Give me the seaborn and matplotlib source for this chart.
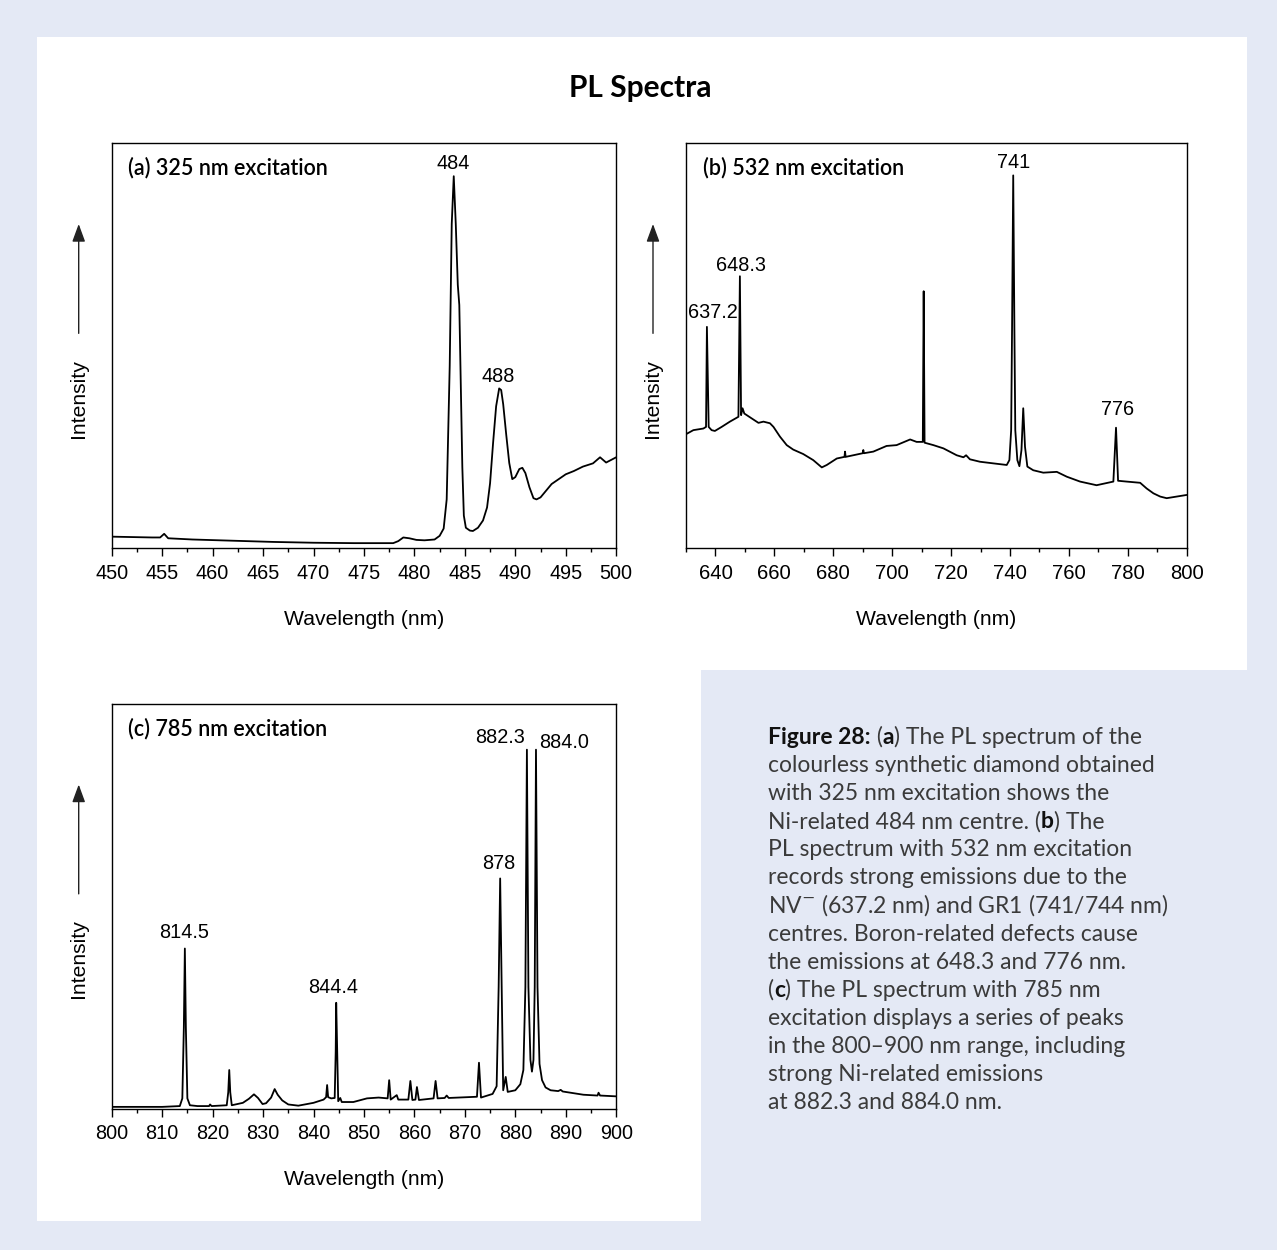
import matplotlib
matplotlib.use('Agg')
import matplotlib.pyplot as plt
import matplotlib.ticker as mticker
from matplotlib.patches import Rectangle
import seaborn as sns

wl_a = [450.0, 452.0, 454.0, 454.8, 455.2, 455.6, 458.0, 462.0, 466.0, 470.0,
        474.0, 477.9, 478.4, 478.9, 479.5, 480.2, 481.0, 482.0, 482.5, 482.9,
        483.2, 483.5, 483.7, 483.9, 484.1, 484.3, 484.45, 484.6, 484.75, 484.9,
        485.1, 485.5, 485.8, 486.3, 486.8, 487.2, 487.5, 487.8, 488.1, 488.4,
        488.6, 488.8, 489.1, 489.4, 489.7, 490.0, 490.4, 490.7, 491.0, 491.4,
        491.8, 492.1, 492.5, 493.0, 493.6, 494.3, 495.0, 495.8, 496.7, 497.7,
        498.4, 499.0, 500.0]
int_a = [2.8, 2.7, 2.6, 2.6, 3.5, 2.4, 2.1, 1.8, 1.5, 1.3,
         1.2, 1.2, 1.7, 2.6, 2.4, 2.0, 1.9, 2.1, 3.0, 4.8,
         12.0, 45.0, 80.0, 91.8, 80.0, 65.0, 60.0, 40.0, 20.0, 8.0,
         5.0, 4.3, 4.2, 5.0, 6.8, 10.0, 16.0, 26.0, 35.0, 39.4,
         39.0, 35.5, 28.0, 21.0, 17.0, 17.5, 19.5, 19.8, 18.5, 15.0,
         12.3, 12.0, 12.5, 14.0, 15.8, 17.0, 18.2, 19.0, 20.1, 20.9,
         22.4, 21.1, 22.4]
peaks_a = ['484', '488']
peak_x_a = [483.8, 488.3]
peak_y_a = [94.9, 42.4]

wl_b = [630.0, 632.5, 635.9, 636.8, 637.1, 637.7, 638.7, 639.8, 642.1, 644.9,
        647.8, 648.3, 648.7, 649.2, 649.8, 652.3, 654.6, 656.3, 658.5, 659.7,
        661.9, 664.2, 666.4, 669.8, 673.2, 676.1, 677.8, 681.2, 683.8, 684.0,
        684.2, 686.8, 690.0, 690.2, 690.4, 693.6, 698.1, 701.5, 706.1, 708.3,
        710.4, 710.7, 711.0, 714.0, 717.4, 721.9, 724.2, 725.1, 726.4, 729.8,
        734.3, 738.9, 739.8, 740.4, 740.7, 741.1, 741.5, 741.8, 742.5, 743.2,
        743.9, 744.5, 745.1, 745.9, 747.9, 751.3, 755.9, 759.3, 763.8, 769.4,
        775.1, 776.0, 776.7, 779.6, 784.2, 786.4, 788.7, 791.0, 793.2, 796.6,
        800.0]
int_b = [28.1, 29.1, 29.5, 29.9, 54.6, 29.9, 29.1, 28.9, 29.9, 31.2,
         32.4, 67.1, 32.8, 34.5, 33.2, 32.0, 30.9, 31.2, 30.8, 29.9,
         27.5, 25.4, 24.3, 23.2, 21.7, 19.9, 20.5, 22.1, 22.5, 23.8,
         22.5, 22.9, 23.4, 24.2, 23.4, 23.8, 25.2, 25.4, 26.8, 26.2,
         26.2, 63.4, 26.0, 25.4, 24.6, 22.9, 22.4, 22.9, 21.9, 21.3,
         20.9, 20.5, 21.7, 29.1, 53.8, 92.0, 53.8, 29.1, 21.7, 20.2,
         24.2, 34.5, 25.0, 20.1, 19.2, 18.6, 18.8, 17.6, 16.4, 15.5,
         16.4, 29.7, 16.6, 16.4, 16.1, 14.7, 13.5, 12.7, 12.3, 12.7,
         13.1]
peaks_b = ['637.2', '648.3', '741', '776']
peak_x_b = [639.0, 648.7, 741.1, 776.5]
peak_y_b = [58.1, 69.8, 95.1, 34.2]

wl_c = [800.0, 810.0, 813.5, 814.0, 814.3, 814.5, 814.7, 815.0, 815.5, 817.0,
        819.3, 819.5, 819.8, 822.8, 823.1, 823.3, 823.5, 823.8, 826.0, 827.2,
        828.2, 829.0, 829.9, 830.6, 831.6, 832.3, 832.9, 833.8, 835.0, 837.0,
        840.0, 842.0, 842.5, 842.7, 842.9, 843.5, 844.2, 844.4, 844.5, 844.7,
        844.9, 845.3, 845.6, 847.9, 850.6, 852.9, 854.7, 855.0, 855.3, 856.5,
        856.8, 858.8, 859.2, 859.6, 860.2, 860.5, 860.9, 863.8, 864.2, 864.6,
        866.0, 866.4, 866.8, 872.4, 872.8, 873.2, 875.5, 876.3, 876.7, 877.0,
        877.3, 877.6, 878.1, 878.5, 880.0, 881.0, 881.6, 882.0, 882.3, 882.6,
        883.0, 883.3, 883.6, 883.85, 884.1, 884.4, 884.8, 885.3, 886.0, 887.0,
        888.5, 889.0, 889.4, 893.5, 896.3, 896.5, 896.8, 900.0]
int_c = [0.4, 0.4, 0.6, 2.5, 20.0, 39.5, 20.0, 2.5, 0.8, 0.6,
         0.6, 1.0, 0.6, 0.8, 4.0, 9.5, 4.0, 0.8, 1.4, 2.4,
         3.5, 2.6, 1.1, 1.3, 2.7, 4.8, 3.4, 2.0, 1.0, 0.7,
         1.4, 2.2, 2.8, 5.8, 2.8, 2.5, 2.6, 14.0, 26.1, 14.0,
         1.8, 2.6, 1.6, 1.6, 2.5, 2.7, 2.5, 7.0, 2.2, 3.3,
         2.2, 2.2, 6.8, 2.1, 2.2, 5.3, 2.1, 2.5, 6.8, 2.5,
         2.6, 3.2, 2.6, 2.9, 11.3, 2.7, 3.6, 5.5, 30.0, 56.8,
         30.0, 4.5, 7.8, 4.1, 4.5, 6.0, 9.5, 30.0, 88.6, 30.0,
         12.0, 9.1, 12.0, 30.0, 88.6, 30.0, 11.0, 7.0, 5.2, 4.5,
         4.3, 4.6, 4.2, 3.4, 3.2, 3.9, 3.2, 3.0]
peaks_c = ['814.5', '844.4', '878', '882.3', '884.0']
peak_x_c = [814.3, 843.8, 876.7, 877.0, 889.6]
peak_y_c = [43.4, 29.8, 60.5, 91.6, 90.3]

caption = [
    [('Figure 28:', True), (' (', False), ('a', True), (') The PL spectrum of the', False)],
    [('colourless synthetic diamond obtained', False)],
    [('with 325 nm excitation shows the', False)],
    [('Ni-related 484 nm centre. (', False), ('b', True), (') The', False)],
    [('PL spectrum with 532 nm excitation', False)],
    [('records strong emissions due to the', False)],
    [('NV$^{-}$ (637.2 nm) and GR1 (741/744 nm)', False)],
    [('centres. Boron-related defects cause', False)],
    [('the emissions at 648.3 and 776 nm.', False)],
    [('(', False), ('c', True), (') The PL spectrum with 785 nm', False)],
    [('excitation displays a series of peaks', False)],
    [('in the 800\u2013900 nm range, including', False)],
    [('strong Ni-related emissions', False)],
    [('at 882.3 and 884.0 nm.', False)],
]

sns.set_theme(style='ticks')
plt.rcParams['font.family'] = ['Liberation Sans', 'DejaVu Sans']

W, H = 1277, 1250
fig = plt.figure(figsize=(W / 100, H / 100), dpi=100)
fig.patch.set_facecolor('#e4e9f5')
fig.patches.append(Rectangle((37 / W, 1 - 670 / H), 1210 / W, 633 / H,
                             transform=fig.transFigure, fc='white', ec='none', zorder=-5))
fig.patches.append(Rectangle((37 / W, 1 - 1221 / H), 664 / W, 552 / H,
                             transform=fig.transFigure, fc='white', ec='none', zorder=-5))

fig.text(640 / W, 1 - 88 / H, 'PL Spectra', ha='center', va='center',
         fontsize=21.5, fontweight='bold', family='Lato', color='black')


def panel(left, top, width, wl, inten, xlim, major, minor, tag, labels, lx, ly,
          ticksize=14.3):
    ax = fig.add_axes([left / W, 1 - (top + 405) / H, width / W, 405 / H])
    sns.lineplot(x=wl, y=inten, ax=ax, color='black', lw=1.3,
                 estimator=None, sort=False)
    ax.set_xlim(xlim)
    ax.set_ylim(0, 100)
    ax.set_yticks([])
    ax.xaxis.set_major_locator(mticker.MultipleLocator(major))
    ax.xaxis.set_minor_locator(mticker.MultipleLocator(minor))
    ax.tick_params(axis='x', which='major', direction='out', length=6, width=1,
                   labelsize=ticksize, pad=5.5, colors='black')
    ax.tick_params(axis='x', which='minor', direction='out', length=3, width=1,
                   colors='black')
    for s in ax.spines.values():
        s.set_color('black')
        s.set_linewidth(1.0)
    ax.set_xlabel('Wavelength (nm)', fontsize=15.2, color='black')
    ax.xaxis.set_label_coords(0.5, -0.153)
    ax.set_ylabel('')
    dx = -33 / width
    ax.text(dx, 0.37, 'Intensity', rotation=90, transform=ax.transAxes,
            ha='center', va='center', fontsize=15.2, color='black')
    ax.annotate('', xy=(dx, 0.80), xytext=(dx, 0.53), xycoords='axes fraction',
                arrowprops=dict(arrowstyle='-|>,head_length=0.9,head_width=0.33',
                                color='#222222', lw=1.0, shrinkA=0, shrinkB=0,
                                mutation_scale=12))
    ax.text(0.033, 0.938, tag, transform=ax.transAxes, ha='left', va='center',
            fontsize=15.5, family='Lato', fontweight='semibold', color='black')
    for t, x, y in zip(labels, lx, ly):
        ax.text(x, y, t, ha='center', va='center', fontsize=14.3, color='black')
    return ax


panel(111.7, 143, 504.5, wl_a, int_a, (450, 500), 5, 2.5,
      '(a) 325 nm excitation', peaks_a, peak_x_a, peak_y_a)
panel(686, 143, 500.7, wl_b, int_b, (630, 800), 20, 10,
      '(b) 532 nm excitation', peaks_b, peak_x_b, peak_y_b, ticksize=14.6)
panel(111.7, 703.5, 504.5, wl_c, int_c, (800, 900), 10, 5,
      '(c) 785 nm excitation', peaks_c, peak_x_c, peak_y_c)

renderer = fig.canvas.get_renderer()
for i, parts in enumerate(caption):
    x = 768 / W
    y = 1 - (744 + i * 28.1) / H
    for txt, bold in parts:
        t = fig.text(x, y, txt, fontsize=16.5, va='baseline', ha='left',
                     family=['Lato', 'DejaVu Sans'],
                     fontweight='bold' if bold else 'normal',
                     color='#111111' if bold else '#3a3a3a')
        x += t.get_window_extent(renderer).width / W

fig.savefig('out.png', dpi=100, facecolor=fig.get_facecolor())
